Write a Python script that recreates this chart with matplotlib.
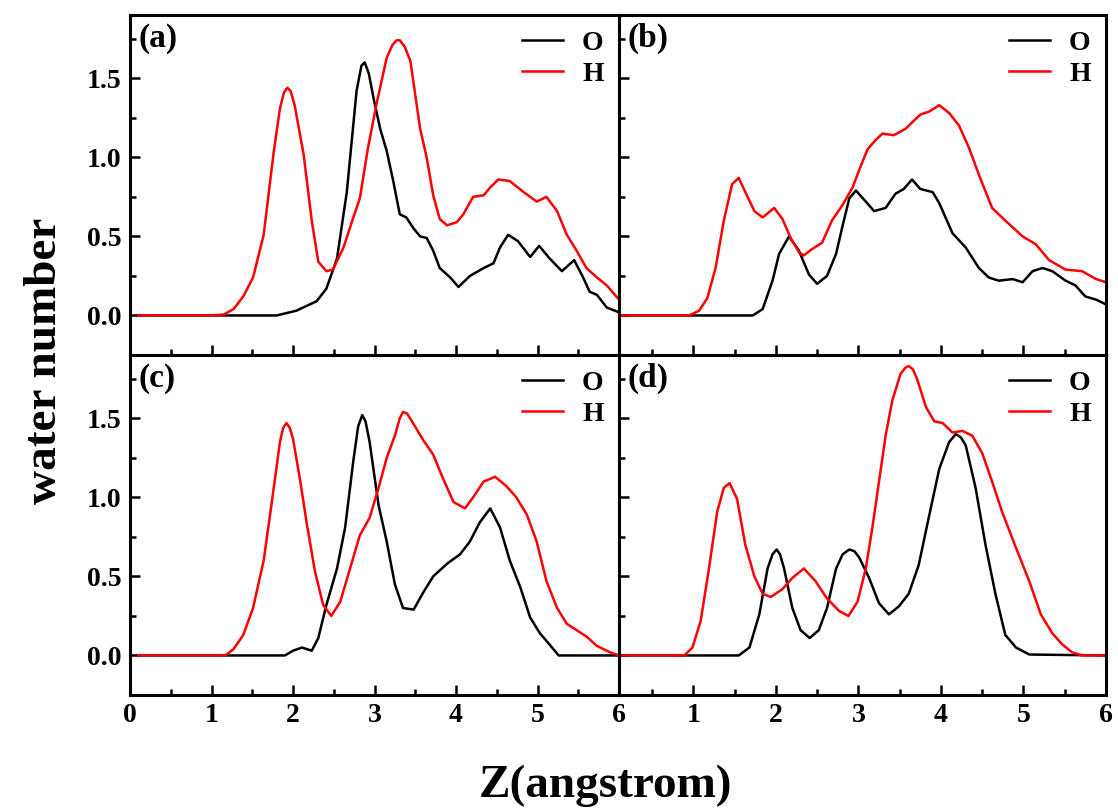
import numpy as np
import matplotlib
matplotlib.use("Agg")
import matplotlib.pyplot as plt
from matplotlib.ticker import MultipleLocator, FormatStrFormatter

plt.rcParams['font.family'] = ['Liberation Serif', 'DejaVu Serif']
plt.rcParams['font.weight'] = 'bold'

# ---- data (Z in angstrom, water number) ----
a_o_x = [0.1, 1.8, 2.04, 2.29, 2.41, 2.54, 2.66, 2.72, 2.78, 2.84, 2.88, 2.93, 2.99, 3.07, 3.15,
         3.23, 3.31, 3.39, 3.48, 3.56, 3.64, 3.72, 3.80, 3.93, 4.03, 4.17, 4.34, 4.46, 4.54,
         4.64, 4.76, 4.91, 5.02, 5.15, 5.30, 5.45, 5.56, 5.64, 5.73, 5.85, 6.0]
a_o_y = [0.0, 0.0, 0.03, 0.09, 0.17, 0.36, 0.78, 1.10, 1.42, 1.58, 1.60, 1.53, 1.37, 1.18, 1.04,
         0.85, 0.64, 0.62, 0.55, 0.50, 0.49, 0.41, 0.30, 0.24, 0.18, 0.25, 0.30, 0.33, 0.43,
         0.51, 0.47, 0.37, 0.44, 0.36, 0.28, 0.35, 0.24, 0.15, 0.13, 0.05, 0.02]
a_h_x = [0.1, 0.98, 1.15, 1.27, 1.39, 1.51, 1.64, 1.76, 1.84, 1.89, 1.93, 1.97, 2.02, 2.13, 2.23,
         2.31, 2.41, 2.49, 2.62, 2.74, 2.82, 2.92, 3.03, 3.15, 3.22, 3.27, 3.31, 3.37, 3.44,
         3.56, 3.64, 3.72, 3.80, 3.89, 4.01, 4.09, 4.21, 4.34, 4.42, 4.52, 4.66, 4.83, 4.99,
         5.11, 5.24, 5.36, 5.48, 5.60, 5.73, 5.85, 6.0]
a_h_y = [0.0, 0.0, 0.006, 0.04, 0.12, 0.24, 0.51, 1.02, 1.31, 1.41, 1.44, 1.42, 1.33, 1.02, 0.60,
         0.34, 0.28, 0.29, 0.43, 0.62, 0.74, 1.06, 1.35, 1.63, 1.71, 1.74, 1.74, 1.70, 1.61,
         1.18, 1.00, 0.76, 0.61, 0.57, 0.59, 0.64, 0.75, 0.76, 0.81, 0.86, 0.85, 0.78, 0.72,
         0.75, 0.66, 0.51, 0.41, 0.30, 0.24, 0.19, 0.10]

b_o_x = [0.1, 1.72, 1.84, 1.96, 2.04, 2.16, 2.28, 2.40, 2.50, 2.62, 2.73, 2.81, 2.89, 2.97, 3.09,
         3.19, 3.33, 3.45, 3.55, 3.65, 3.75, 3.90, 3.98, 4.14, 4.30, 4.46, 4.58, 4.70, 4.87,
         4.99, 5.11, 5.23, 5.35, 5.51, 5.63, 5.75, 5.88, 6.0]
b_o_y = [0.0, 0.0, 0.04, 0.22, 0.39, 0.50, 0.41, 0.26, 0.20, 0.25, 0.39, 0.57, 0.74, 0.79, 0.72,
         0.66, 0.68, 0.77, 0.80, 0.86, 0.80, 0.78, 0.71, 0.52, 0.43, 0.30, 0.24, 0.22, 0.23,
         0.21, 0.28, 0.30, 0.28, 0.22, 0.19, 0.12, 0.10, 0.07]
b_h_x = [0.1, 0.95, 1.07, 1.17, 1.27, 1.37, 1.47, 1.55, 1.63, 1.74, 1.84, 1.98, 2.08, 2.18, 2.28,
         2.34, 2.44, 2.56, 2.68, 2.81, 2.93, 3.01, 3.11, 3.21, 3.29, 3.43, 3.57, 3.75, 3.86,
         3.98, 4.10, 4.22, 4.34, 4.46, 4.62, 4.78, 4.99, 5.15, 5.31, 5.51, 5.71, 5.88, 6.0]
b_h_y = [0.0, 0.0, 0.03, 0.11, 0.30, 0.60, 0.83, 0.87, 0.78, 0.66, 0.62, 0.68, 0.61, 0.49, 0.40,
         0.38, 0.42, 0.46, 0.60, 0.70, 0.81, 0.92, 1.05, 1.11, 1.15, 1.14, 1.18, 1.27, 1.29,
         1.33, 1.28, 1.20, 1.06, 0.89, 0.68, 0.60, 0.50, 0.45, 0.35, 0.29, 0.28, 0.23, 0.21]

c_o_x = [0.1, 1.90, 2.00, 2.11, 2.23, 2.31, 2.41, 2.54, 2.64, 2.74, 2.80, 2.85, 2.89, 2.94, 3.05,
         3.15, 3.25, 3.35, 3.48, 3.60, 3.72, 3.89, 4.05, 4.17, 4.29, 4.42, 4.54, 4.66, 4.79,
         4.91, 5.03, 5.13, 5.26, 6.0]
c_o_y = [0.0, 0.0, 0.03, 0.05, 0.03, 0.11, 0.32, 0.55, 0.81, 1.23, 1.45, 1.52, 1.48, 1.35, 0.95,
         0.72, 0.45, 0.30, 0.29, 0.40, 0.50, 0.58, 0.64, 0.72, 0.84, 0.93, 0.81, 0.60, 0.43,
         0.24, 0.14, 0.08, 0.0, 0.0]
c_h_x = [0.1, 1.17, 1.27, 1.39, 1.51, 1.64, 1.74, 1.84, 1.88, 1.92, 1.96, 2.00, 2.09, 2.17, 2.27,
         2.37, 2.47, 2.58, 2.70, 2.82, 2.94, 3.05, 3.15, 3.25, 3.31, 3.35, 3.40, 3.46, 3.60,
         3.72, 3.84, 3.97, 4.11, 4.21, 4.34, 4.48, 4.62, 4.74, 4.87, 4.99, 5.11, 5.24, 5.36,
         5.48, 5.60, 5.73, 5.89, 6.0]
c_h_y = [0.0, 0.0, 0.04, 0.13, 0.30, 0.60, 0.97, 1.35, 1.44, 1.47, 1.44, 1.37, 1.10, 0.83, 0.53,
         0.32, 0.25, 0.34, 0.55, 0.76, 0.87, 1.06, 1.25, 1.39, 1.50, 1.54, 1.53, 1.48, 1.36,
         1.27, 1.12, 0.97, 0.93, 1.00, 1.10, 1.13, 1.07, 1.00, 0.89, 0.72, 0.47, 0.30, 0.20,
         0.16, 0.12, 0.06, 0.02, 0.0]

d_o_x = [0.1, 1.55, 1.68, 1.80, 1.90, 1.96, 2.01, 2.05, 2.10, 2.20, 2.30, 2.41, 2.52, 2.62, 2.73,
         2.81, 2.89, 2.95, 3.01, 3.13, 3.25, 3.37, 3.49, 3.61, 3.73, 3.86, 3.98, 4.10, 4.18,
         4.24, 4.30, 4.42, 4.54, 4.66, 4.78, 4.91, 5.07, 6.0]
d_o_y = [0.0, 0.0, 0.05, 0.26, 0.55, 0.64, 0.67, 0.64, 0.55, 0.30, 0.16, 0.11, 0.16, 0.30, 0.55,
         0.64, 0.67, 0.66, 0.62, 0.49, 0.33, 0.26, 0.31, 0.39, 0.57, 0.89, 1.18, 1.35, 1.40,
         1.38, 1.33, 1.06, 0.70, 0.39, 0.13, 0.05, 0.006, 0.0]
d_h_x = [0.1, 0.89, 0.99, 1.09, 1.19, 1.29, 1.37, 1.44, 1.53, 1.63, 1.74, 1.84, 1.94, 2.08, 2.20,
         2.34, 2.48, 2.62, 2.77, 2.88, 2.99, 3.09, 3.17, 3.25, 3.33, 3.41, 3.51, 3.57, 3.61,
         3.66, 3.71, 3.82, 3.92, 4.02, 4.14, 4.26, 4.38, 4.50, 4.62, 4.74, 4.91, 5.07, 5.21,
         5.35, 5.47, 5.59, 5.71, 6.0]
d_h_y = [0.0, 0.0, 0.05, 0.22, 0.55, 0.91, 1.06, 1.09, 0.99, 0.70, 0.50, 0.39, 0.37, 0.42, 0.49,
         0.55, 0.47, 0.36, 0.28, 0.25, 0.34, 0.55, 0.81, 1.10, 1.39, 1.61, 1.78, 1.82, 1.83,
         1.81, 1.75, 1.57, 1.48, 1.47, 1.41, 1.42, 1.39, 1.28, 1.10, 0.91, 0.68, 0.47, 0.26,
         0.14, 0.07, 0.02, 0.0, 0.0]

panels = [
    ("(a)", a_o_x, a_o_y, a_h_x, a_h_y),
    ("(b)", b_o_x, b_o_y, b_h_x, b_h_y),
    ("(c)", c_o_x, c_o_y, c_h_x, c_h_y),
    ("(d)", d_o_x, d_o_y, d_h_x, d_h_y),
]

fig = plt.figure(figsize=(11.18, 8.1), dpi=100)

left, mid, right = 130 / 1118, 619 / 1118, 1106 / 1118
top, hmid, bottom = 1 - 15 / 810, 1 - 355 / 810, 1 - 695 / 810
rects = [
    [left, hmid, mid - left, top - hmid],
    [mid, hmid, right - mid, top - hmid],
    [left, bottom, mid - left, hmid - bottom],
    [mid, bottom, right - mid, hmid - bottom],
]

for i, (tag, ox, oy, hx, hy) in enumerate(panels):
    ax = fig.add_axes(rects[i])
    ax.plot(ox, oy, color="black", lw=1.8, label="O")
    ax.plot(hx, hy, color="#ff0000", lw=1.8, label="H")

    ax.set_xlim(0 if i % 2 == 0 else 0.1, 6)
    ax.set_ylim(-0.25, 1.9)
    ax.xaxis.set_major_locator(MultipleLocator(1))
    ax.xaxis.set_minor_locator(MultipleLocator(0.5))
    ax.yaxis.set_major_locator(MultipleLocator(0.5))
    ax.yaxis.set_minor_locator(MultipleLocator(0.25))
    ax.yaxis.set_major_formatter(FormatStrFormatter("%.1f"))

    ax.tick_params(which="both", direction="in", top=False, right=False, width=1.8)
    ax.tick_params(which="major", length=7, labelsize=20, pad=6)
    ax.tick_params(which="minor", length=4)
    if i < 2:
        ax.tick_params(labelbottom=False)
    if i % 2 == 1:
        ax.tick_params(labelleft=False)
    for lab in ax.get_xticklabels() + ax.get_yticklabels():
        lab.set_fontweight("bold")
    for sp in ax.spines.values():
        sp.set_linewidth(2.2)

    ax.text(0.018, 0.93, tag, transform=ax.transAxes, fontsize=24, fontweight="bold",
            va="center", ha="left")
    ax.legend(loc="upper right", frameon=False, handlelength=1.45,
              handletextpad=0.7, labelspacing=0.2, borderaxespad=0.15,
              prop={"weight": "bold", "size": 20})

fig.text(0.542, 0.03, "Z(angstrom)", ha="center", va="center", fontsize=34, fontweight="bold")
fig.text(0.04, 0.555, "water number", ha="center", va="center", rotation=90,
         fontsize=34, fontweight="bold")

fig.savefig("out.png", dpi=100)
